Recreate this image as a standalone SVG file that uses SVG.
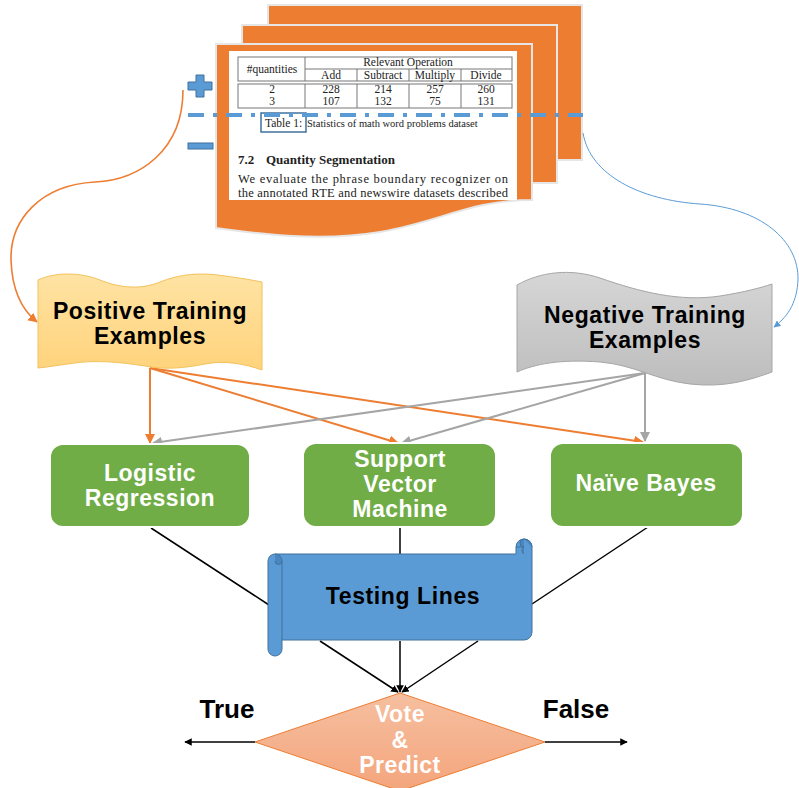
<svg xmlns="http://www.w3.org/2000/svg" width="799" height="788" viewBox="0 0 799 788">
<style>
.sans{font-family:"Liberation Sans",Arial,sans-serif;font-weight:bold;}
.serif{font-family:"Liberation Serif","Times New Roman",serif;fill:#222;}
.lbl{font-size:23px;fill:#000;text-anchor:middle;letter-spacing:0.6px;}
.wlbl{font-size:23px;fill:#fff;text-anchor:middle;letter-spacing:0.5px;}
.tb{font-size:11.5px;text-anchor:middle;}
.grn{fill:#70AD47;stroke:#fff;stroke-width:2;}
.page{fill:#ED7D31;stroke:#E6E6E6;stroke-width:2;}
.tl{stroke:#777;stroke-width:1;fill:none;}
.oa{stroke:#ED7D31;stroke-width:2;fill:none;marker-end:url(#mo);}
.ga{stroke:#A5A5A5;stroke-width:2;fill:none;marker-end:url(#mg);}
.ka{stroke:#000;stroke-width:1.5;fill:none;}
.kam{stroke:#000;stroke-width:1.5;fill:none;marker-end:url(#mk);}
</style>
<defs>
<marker id="mo" viewBox="0 0 10 10" refX="9" refY="5" markerWidth="5" markerHeight="5" orient="auto"><path d="M0,0 L10,5 L0,10 Z" fill="#ED7D31"/></marker>
<marker id="mg" viewBox="0 0 10 10" refX="9" refY="5" markerWidth="5" markerHeight="5" orient="auto"><path d="M0,0 L10,5 L0,10 Z" fill="#A5A5A5"/></marker>
<marker id="mk" viewBox="0 0 10 10" refX="9" refY="5" markerWidth="5" markerHeight="5" orient="auto"><path d="M0,0 L10,5 L0,10 Z" fill="#000"/></marker>
<marker id="mb" viewBox="0 0 10 10" refX="9" refY="5" markerWidth="7" markerHeight="7" orient="auto"><path d="M0,0 L10,5 L0,10 Z" fill="#5B9BD5"/></marker>
<marker id="mo2" viewBox="0 0 10 10" refX="9" refY="5" markerWidth="6" markerHeight="6" orient="auto"><path d="M0,0 L10,5 L0,10 Z" fill="#ED7D31"/></marker>
<linearGradient id="gp" x1="0" y1="0" x2="0" y2="1"><stop offset="0" stop-color="#FFE3A3"/><stop offset="1" stop-color="#FFD37C"/></linearGradient>
<linearGradient id="gn" x1="0" y1="0" x2="0" y2="1"><stop offset="0" stop-color="#D6D6D6"/><stop offset="1" stop-color="#BDBDBD"/></linearGradient>
<linearGradient id="gd" x1="0" y1="0" x2="0" y2="1"><stop offset="0" stop-color="#F6BFA0"/><stop offset="1" stop-color="#F4A57C"/></linearGradient>
</defs>

<g id="document">
<rect class="page" x="268" y="5" width="314" height="155"/>
<rect class="page" x="242" y="25" width="315" height="158"/>
<path class="page" d="M216,44 H532 V200 C470,200 440,222 380,232 C320,242 260,234 216,228 Z"/>
<rect x="229" y="51" width="288" height="149" fill="#fff"/>
<g id="table">
<rect class="tl" x="238" y="57" width="274" height="24"/>
<rect class="tl" x="238" y="84" width="274" height="24"/>
<line class="tl" x1="305" y1="69" x2="512" y2="69"/>
<line class="tl" x1="305" y1="57" x2="305" y2="81"/>
<line class="tl" x1="305" y1="84" x2="305" y2="108"/>
<line class="tl" x1="357" y1="69" x2="357" y2="81"/>
<line class="tl" x1="357" y1="84" x2="357" y2="108"/>
<line class="tl" x1="409" y1="69" x2="409" y2="81"/>
<line class="tl" x1="409" y1="84" x2="409" y2="108"/>
<line class="tl" x1="461" y1="69" x2="461" y2="81"/>
<line class="tl" x1="461" y1="84" x2="461" y2="108"/>
<text class="serif tb" x="272" y="73">#quantities</text>
<text class="serif tb" x="408" y="66">Relevant Operation</text>
<text class="serif tb" x="331" y="79">Add</text>
<text class="serif tb" x="383" y="79">Subtract</text>
<text class="serif tb" x="435" y="79">Multiply</text>
<text class="serif tb" x="486" y="79">Divide</text>
<text class="serif tb" x="272" y="93">2</text>
<text class="serif tb" x="331" y="93">228</text>
<text class="serif tb" x="383" y="93">214</text>
<text class="serif tb" x="435" y="93">257</text>
<text class="serif tb" x="486" y="93">260</text>
<text class="serif tb" x="272" y="105">3</text>
<text class="serif tb" x="331" y="105">107</text>
<text class="serif tb" x="383" y="105">132</text>
<text class="serif tb" x="435" y="105">75</text>
<text class="serif tb" x="486" y="105">131</text>
</g>
<rect x="261" y="113" width="45" height="19" fill="none" stroke="#41719C" stroke-width="1.5"/>
<text class="serif" x="265" y="127" font-size="11.5">Table 1:</text>
<text class="serif" x="307" y="127" font-size="10.5">Statistics of math word problems dataset</text>
<text class="serif" x="238" y="164" font-size="13" font-weight="bold" fill="#111">7.2<tspan x="266">Quantity Segmentation</tspan></text>
<text class="serif" x="238" y="183" font-size="12.5" textLength="270" lengthAdjust="spacing">We evaluate the phrase boundary recognizer on</text>
<text class="serif" x="238" y="197" font-size="12.5" textLength="270" lengthAdjust="spacing">the annotated RTE and newswire datasets described</text>
<line x1="188" y1="115" x2="583" y2="115" stroke="#5B9BD5" stroke-width="4" stroke-dasharray="16 9 4 9"/>
<path d="M196,75 H204 V82 H212 V90 H204 V97 H196 V90 H188 V82 H196 Z" fill="#5B9BD5" stroke="#41719C" stroke-width="1"/>
<rect x="188" y="143" width="25" height="6" fill="#5B9BD5" stroke="#41719C" stroke-width="1"/>
</g>

<g id="connectors">
<path d="M183,90 C183,150 140,180 95,182 C40,185 10,220 11,260 C12,290 22,310 37,322" stroke="#ED7D31" stroke-width="1.6" fill="none" marker-end="url(#mo2)"/>
<path d="M583,133 C590,175 640,200 700,204 C760,208 799,240 798,280 C797,300 790,315 774,327" stroke="#5B9BD5" stroke-width="1" fill="none" marker-end="url(#mb)"/>
<line class="oa" x1="150" y1="368" x2="150" y2="443"/>
<line class="oa" x1="150" y1="368" x2="398" y2="443"/>
<line class="oa" x1="150" y1="368" x2="643" y2="442"/>
<line class="ga" x1="645" y1="373" x2="153" y2="443"/>
<line class="ga" x1="645" y1="373" x2="402" y2="443"/>
<line class="ga" x1="645" y1="373" x2="645" y2="441"/>
<line class="ka" x1="151" y1="528" x2="269" y2="605"/>
<line class="ka" x1="400" y1="527" x2="400" y2="554"/>
<line class="ka" x1="648" y1="527" x2="532" y2="604"/>
<line class="kam" x1="320" y1="641" x2="398" y2="692"/>
<line class="kam" x1="400" y1="641" x2="400" y2="692"/>
<line class="kam" x1="478" y1="641" x2="402" y2="692"/>
<line class="kam" x1="255" y1="742" x2="185" y2="742"/>
<line class="kam" x1="545" y1="742" x2="627" y2="742"/>
</g>

<g id="positive">
<path d="M38,280 C55,272 80,272 100,280 C120,288 140,290 160,282 C180,274 200,272 225,276 C240,278 252,280 262,282 V370 C245,364 225,360 205,364 C185,368 165,370 145,366 C120,362 95,360 75,363 C60,365 48,367 38,368 Z" fill="url(#gp)" stroke="#F2C25C" stroke-width="1"/>
<text class="sans lbl" x="150" y="319">Positive Training</text>
<text class="sans lbl" x="150" y="344">Examples</text>
</g>

<g id="negative">
<path d="M517,285 C540,272 570,268 600,278 C640,292 680,302 720,296 C745,292 760,288 772,284 V372 C750,380 725,388 690,384 C655,380 635,365 600,362 C560,359 535,364 517,372 Z" fill="url(#gn)" stroke="#A6A6A6" stroke-width="1"/>
<text class="sans lbl" x="645" y="323">Negative Training</text>
<text class="sans lbl" x="645" y="348">Examples</text>
</g>

<g id="logistic">
<rect class="grn" x="50" y="444" width="200" height="83" rx="13"/>
<text class="sans wlbl" x="150" y="481">Logistic</text>
<text class="sans wlbl" x="150" y="506">Regression</text>
</g>
<g id="svm">
<rect class="grn" x="303" y="443" width="193" height="84" rx="13"/>
<text class="sans wlbl" x="400" y="467">Support</text>
<text class="sans wlbl" x="400" y="492">Vector</text>
<text class="sans wlbl" x="400" y="517">Machine</text>
</g>
<g id="naive">
<rect class="grn" x="550" y="443" width="193" height="84" rx="13"/>
<text class="sans wlbl" x="646" y="491">Naïve Bayes</text>
</g>

<g id="testing">
<path d="M282,554 H516 V547 A8,8 0 0 1 532,547 V632 A8,8 0 0 1 524,640 H282 V649 A7,7 0 0 1 268,649 V561 A7,7 0 0 1 275,554 Z" fill="#5B9BD5" stroke="#41719C" stroke-width="1"/>
<path d="M275,554 A7,7 0 0 1 282,561 A3.5,3.5 0 0 1 275,561" fill="#4A87C0" stroke="#41719C" stroke-width="1"/>
<line x1="282" y1="561" x2="282" y2="640" stroke="#41719C" stroke-width="1"/>
<path d="M524,539 A8,8 0 0 1 532,547 M524,539 A4,4 0 0 0 524,547 A4,4 0 0 0 524,554 M524,547 H516" fill="#4A87C0" stroke="#41719C" stroke-width="1"/>
<text class="sans lbl" x="403" y="604">Testing Lines</text>
</g>

<g id="vote">
<path d="M400,693 L545,742 L400,791 L255,742 Z" fill="url(#gd)" stroke="#ED7D31" stroke-width="1"/>
<text class="sans wlbl" x="400" y="722">Vote</text>
<text class="sans wlbl" x="400" y="748">&amp;</text>
<text class="sans wlbl" x="400" y="773">Predict</text>
</g>

<g id="labels">
<text class="sans" x="227" y="718" font-size="26" text-anchor="middle">True</text>
<text class="sans" x="576" y="718" font-size="26" text-anchor="middle">False</text>
</g>
</svg>
